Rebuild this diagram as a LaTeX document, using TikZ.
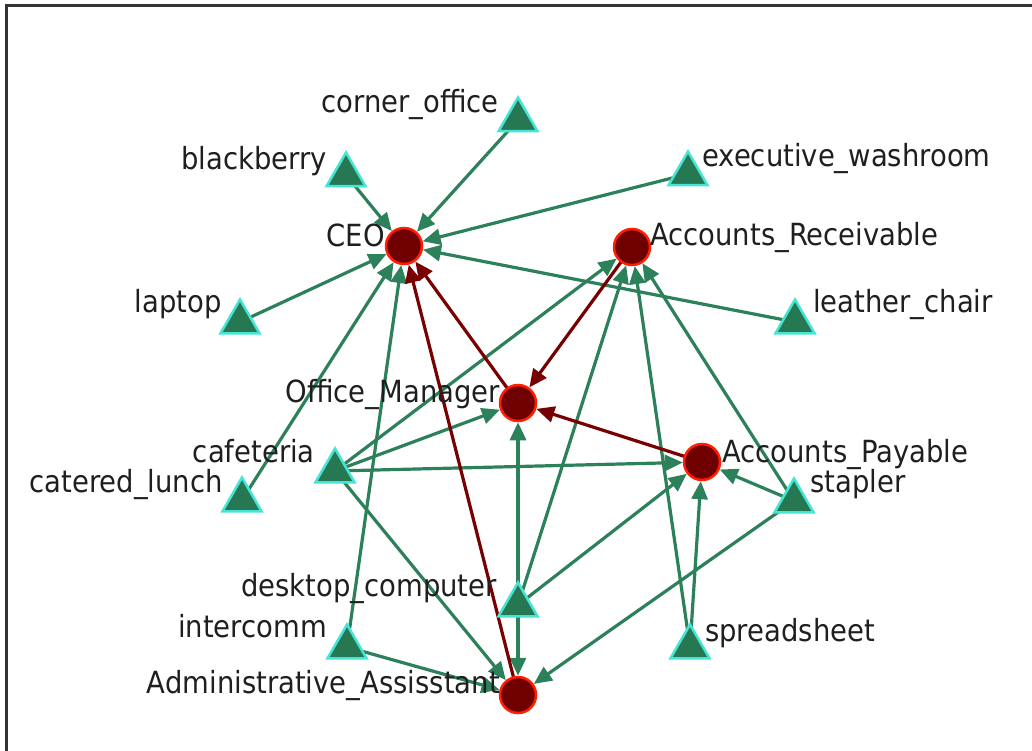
\documentclass[tikz,border=0pt]{standalone}
\usepackage{fontspec}
\setmainfont{DejaVu Sans}[FakeStretch=0.9]
\usetikzlibrary{shapes.geometric,arrows.meta,backgrounds}
\definecolor{edgegreen}{RGB}{44,128,90}
\definecolor{edgered}{RGB}{120,0,0}
\definecolor{resfill}{RGB}{38,120,82}
\definecolor{rescyan}{RGB}{70,228,212}
\definecolor{personfill}{RGB}{112,0,0}
\definecolor{personborder}{RGB}{255,30,0}
\begin{document}
\begin{tikzpicture}[x=1pt,y=-1pt,
  person/.style={circle, fill=personfill, draw=personborder, line width=2.5pt, minimum size=36pt, inner sep=0pt},
  resource/.style={regular polygon, regular polygon sides=3, fill=resfill, draw=rescyan, line width=2.5pt, minimum size=45pt, inner sep=0pt},
  lbl/.style={inner sep=0pt, font=\fontsize{30.5}{36}\selectfont, text=black!88},
  ge/.style={draw=edgegreen, line width=3.2pt, -{Triangle[length=18pt,width=16pt]}},
  re/.style={draw=edgered, line width=3.2pt, -{Triangle[length=18pt,width=16pt]}},
  frame/.style={draw=black!80, line width=3pt}]
\useasboundingbox (0,0) rectangle (1032,751);
\draw[frame] (6,751) -- (6,6) -- (1032,6);

% people
\node[person] (ceo) at (404,246) {};
\node[person] (ar)  at (632,247) {};
\node[person] (om)  at (518,403) {};
\node[person] (ap)  at (702,462) {};
\node[person] (aa)  at (518,695) {};

% resources
\node[resource] (co)  at (518,120) {};
\node[resource] (bb)  at (346,175) {};
\node[resource] (ew)  at (688,174) {};
\node[resource] (lap) at (240,322) {};
\node[resource] (lc)  at (795,322) {};
\node[resource] (caf) at (335,471) {};
\node[resource] (cl)  at (242,500) {};
\node[resource] (st)  at (794,501) {};
\node[resource] (dc)  at (518,605) {};
\node[resource] (ic)  at (347,647) {};
\node[resource] (ss)  at (690,647) {};

\begin{scope}[on background layer]
  \draw[ge] (co.center) -- (ceo);
  \draw[ge] (bb.center) -- (ceo);
  \draw[ge] (ew.center) -- (ceo);
  \draw[ge] (lap.center) -- (ceo);
  \draw[ge] (lc.center) -- (ceo);
  \draw[ge] (cl.center) -- (ceo);
  \draw[ge] (ic.center) -- (ceo);
  \draw[ge] (caf.center) -- (ar);
  \draw[ge] (caf.center) -- (om);
  \draw[ge] (caf.center) -- (ap);
  \draw[ge] (caf.center) -- (aa);
  \draw[ge] (dc.center) -- (om);
  \draw[ge] (dc.center) -- (ar);
  \draw[ge] (dc.center) -- (ap);
  \draw[ge] (dc.center) -- (aa);
  \draw[ge] (st.center) -- (ar);
  \draw[ge] (st.center) -- (ap);
  \draw[ge] (st.center) -- (aa);
  \draw[ge] (ss.center) -- (ar);
  \draw[ge] (ss.center) -- (ap);
  \draw[ge] (ic.center) -- (aa);
  \draw[re] (om.center) -- (ceo);
  \draw[re] (aa.center) -- (ceo);
  \draw[re] (ar.center) -- (om);
  \draw[re] (ap.center) -- (om);
\end{scope}

% labels
\node[lbl, anchor=base east] (tco)  at (499,113) {corner\_office};
\node[lbl, anchor=base east] (tbb)  at (327,170) {blackberry};
\node[lbl, anchor=base west] (tew)  at (702,167) {executive\_washroom};
\node[lbl, anchor=base east] (tceo) at (385,247) {CEO};
\node[lbl, anchor=base west] (tar)  at (650,245) {Accounts\_Receivable};
\node[lbl, anchor=base east] (tlap) at (222,312) {laptop};
\node[lbl, anchor=base west] (tlc)  at (813,312) {leather\_chair};
\node[lbl, anchor=base east] (tom)  at (500,402) {Office\_Manager};
\node[lbl, anchor=base east] (tcaf) at (315,462) {cafeteria};
\node[lbl, anchor=base west] (tap)  at (722,462) {Accounts\_Payable};
\node[lbl, anchor=base east] (tcl)  at (223,492) {catered\_lunch};
\node[lbl, anchor=base west] (tst)  at (810,492) {stapler};
\node[lbl, anchor=base east] (tdc)  at (497,596) {desktop\_computer};
\node[lbl, anchor=base east] (tic)  at (327,637) {intercomm};
\node[lbl, anchor=base west] (tss)  at (705,641) {spreadsheet};
\node[lbl, anchor=base east] (taa)  at (500,693) {Administrative\_Assisstant};
\end{tikzpicture}
\end{document}
